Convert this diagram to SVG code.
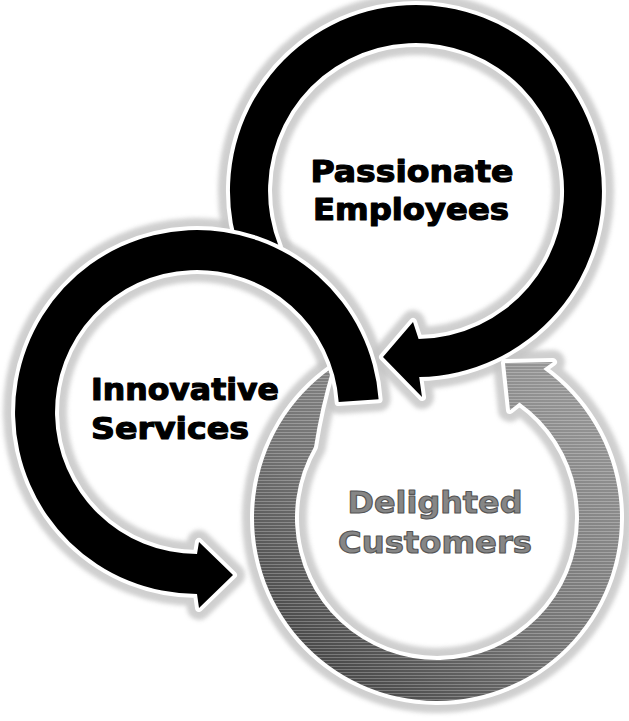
<svg xmlns="http://www.w3.org/2000/svg" xmlns:xlink="http://www.w3.org/1999/xlink" width="629" height="721" viewBox="0 0 629 721">
  <style>
    .halo { fill: #c4c4c4; stroke: #c4c4c4; stroke-width: 24; stroke-linejoin: round; filter: url(#soft); opacity: 0.8; }
    .gap { fill: #ffffff; stroke: #ffffff; stroke-width: 8; stroke-linejoin: round; }
    .black { fill: #000000; }
    .grey { fill: url(#greyGrad); }
    .hatch { fill: url(#hatch); }
    .lbl { font-family: "DejaVu Sans", "Liberation Sans", sans-serif; font-weight: bold; font-size: 31px; stroke-linejoin: round; }
    .dark { fill: #000000; stroke: #000000; stroke-width: 1.2; }
    .mid { fill: #868686; stroke: #555555; stroke-width: 1.1; }
  </style>
  <defs>
    <filter id="soft" x="-10%" y="-10%" width="120%" height="120%">
      <feGaussianBlur stdDeviation="2"/>
    </filter>
    <linearGradient id="greyGrad" gradientUnits="userSpaceOnUse" x1="560" y1="380" x2="330" y2="680">
      <stop offset="0" stop-color="#959595"/>
      <stop offset="0.6" stop-color="#727272"/>
      <stop offset="1" stop-color="#474747"/>
    </linearGradient>
    <pattern id="hatch" patternUnits="userSpaceOnUse" width="6" height="3">
      <rect x="0" y="0" width="6" height="1" fill="#ffffff" opacity="0.25"/>
    </pattern>
    <path id="ringA" d="M243.5,260.7 A186,186 0 1 1 419.2,377.0 L422,397 L383,357 L413,322 L418.6,339.0 A148,148 0 1 0 278.8,246.4 Z"/>
    <path id="ringB" d="M378.6,399.3 A182,182 0 1 0 197,594 L199,608 L233,575 L199,542 L197,554 A142,142 0 1 1 338.7,402.1 Z"/>
    <path id="ringC" d="M332.0,368.1 A183,183 0 1 0 543.3,369.0 L553,362 L505,363 L510,410 L519.5,402.4 A142,142 0 1 1 314.0,447.0 Q320,408 332.0,368.1 Z"/>
  </defs>
  <rect x="0" y="0" width="629" height="721" fill="#ffffff"/>

  <g id="connectors">
    <g id="halos">
      <use xlink:href="#ringC" class="halo"/>
      <use xlink:href="#ringA" class="halo"/>
      <use xlink:href="#ringB" class="halo"/>
    </g>
    <g id="arrow-customers-to-employees">
      <use xlink:href="#ringC" class="gap"/>
      <use xlink:href="#ringC" class="grey"/>
      <use xlink:href="#ringC" class="hatch"/>
    </g>
    <g id="arrow-employees-to-services">
      <use xlink:href="#ringA" class="gap"/>
      <use xlink:href="#ringA" class="black"/>
    </g>
    <g id="arrow-services-to-customers">
      <use xlink:href="#ringB" class="gap"/>
      <use xlink:href="#ringB" class="black"/>
    </g>
  </g>

  <g id="node-passionate-employees">
    <text class="lbl dark" x="412" y="182" text-anchor="middle" textLength="203" lengthAdjust="spacingAndGlyphs">Passionate</text>
    <text class="lbl dark" x="411" y="220" text-anchor="middle" textLength="196" lengthAdjust="spacingAndGlyphs">Employees</text>
  </g>
  <g id="node-innovative-services">
    <text class="lbl dark" x="91" y="400" textLength="188" lengthAdjust="spacingAndGlyphs">Innovative</text>
    <text class="lbl dark" x="91" y="439" textLength="158" lengthAdjust="spacingAndGlyphs">Services</text>
  </g>
  <g id="node-delighted-customers">
    <text class="lbl mid" x="435" y="513" text-anchor="middle" textLength="175" lengthAdjust="spacingAndGlyphs">Delighted</text>
    <text class="lbl mid" x="435" y="553" text-anchor="middle" textLength="194" lengthAdjust="spacingAndGlyphs">Customers</text>
  </g>
</svg>
